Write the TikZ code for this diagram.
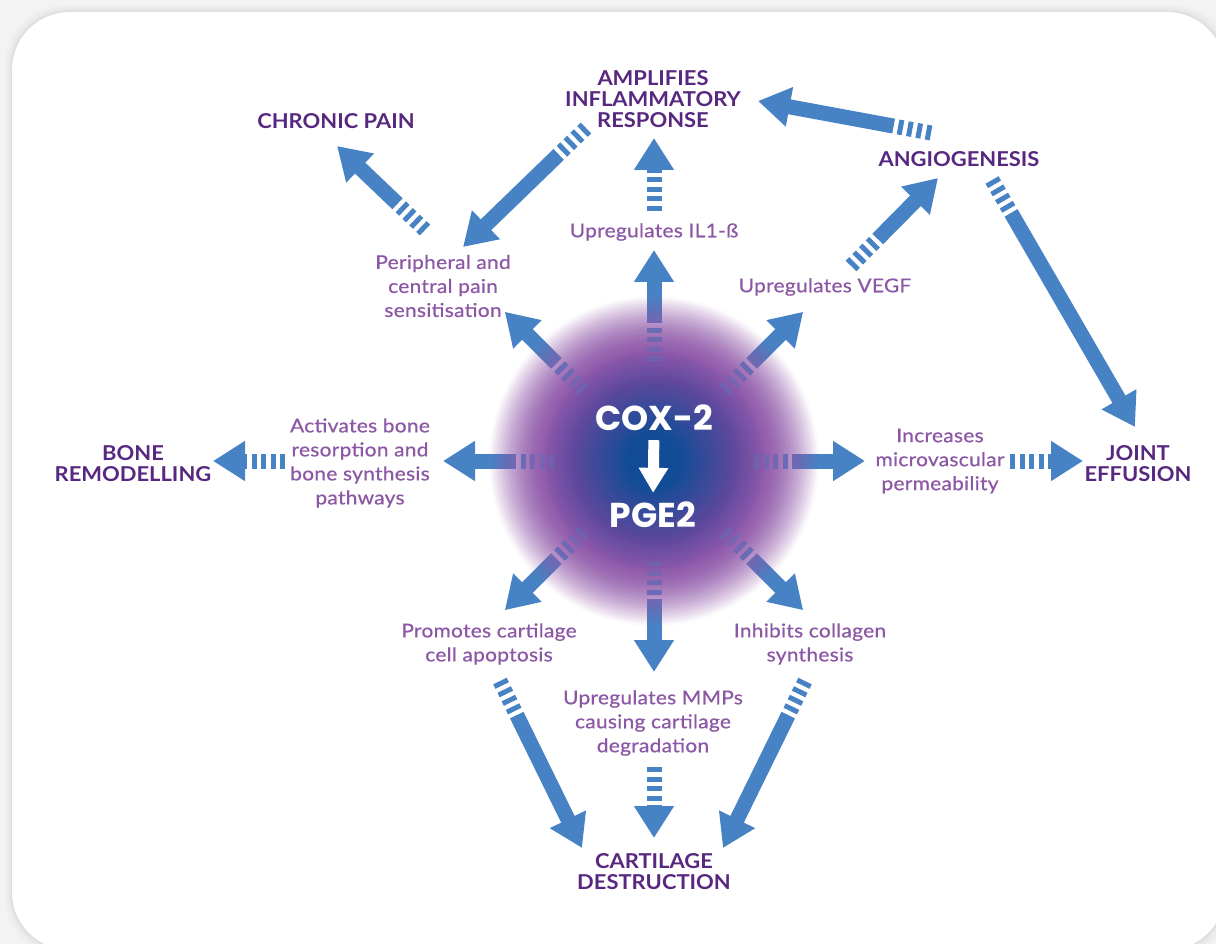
\documentclass[tikz,border=0pt]{standalone}
\usepackage{fontspec}
\setmainfont{Lato}
\newfontfamily\outcomefont{Lato}[FakeStretch=1.07]
\newfontfamily\effectfont{Lato}[FakeStretch=1.1,LetterSpace=1.5,FakeBold=0.6]
\newfontfamily\coxfont{Poppins}
\usetikzlibrary{arrows.meta,calc}
\definecolor{flowblue}{RGB}{71,131,196}
\definecolor{headpurple}{RGB}{88,40,128}
\definecolor{textpurple}{RGB}{140,88,166}
\definecolor{glowcore}{RGB}{18,76,150}
\definecolor{glowmid}{RGB}{92,72,156}
\definecolor{glowedge}{RGB}{146,90,172}
\definecolor{gray95}{RGB}{243,243,243}

\newcommand\flow[2]{%
  \draw[flowstripes] (#1) -- ($(#1)!34pt!(#2)$);
  \draw[flowshaft] ($(#1)!38pt!(#2)$) -- (#2);
}

\begin{document}
\begin{tikzpicture}
  [x=1pt,y=-1pt,
    every node/.style={inner sep=0pt,align=center},
    outcome/.style={text=headpurple,font=\outcomefont\fontsize{20.5}{21}\selectfont\bfseries},
    effect/.style={text=textpurple,font=\effectfont\fontsize{19}{24}\selectfont},
    coxtext/.style={text=white,font=\coxfont\bfseries\fontsize{34.5}{35}\selectfont},
    flowstripes/.style={draw=flowblue,line width=15pt,dash pattern=on 5pt off 4.5pt},
    flowshaft/.style={draw=flowblue,fill=flowblue,line width=15pt,-{Triangle[width=38pt,length=32pt]}},
  ]
  \useasboundingbox (0,0) rectangle (1216,944);
  \clip (0,0) rectangle (1216,944);

  % card
  \fill[gray95] (0,0) rectangle (1216,944);
  \foreach \s/\o in {7/0.012,5/0.015,3/0.02,1.5/0.03}
    \fill[black,opacity=\o,rounded corners=58pt] (12-\s,12-\s) rectangle (1225+\s,950+\s);
  \fill[white,rounded corners=58pt] (12,12) rectangle (1225,950);

  % outcomes
  \node[outcome] (chronic) at (336,121) {CHRONIC PAIN};
  \node[outcome] (amplify) at (653,99) {AMPLIFIES\\INFLAMMATORY\\RESPONSE};
  \node[outcome] (angio) at (959,159) {ANGIOGENESIS};
  \node[outcome] (bone) at (133,463.5) {BONE\\REMODELLING};
  \node[outcome] (joint) at (1138,463.5) {JOINT\\EFFUSION};
  \node[outcome] (cartilage) at (654,871.5) {CARTILAGE\\DESTRUCTION};

  % effects
  \node[effect] (il1) at (654,232) {Upregulates IL1-ß};
  \node[effect] (periph) at (443,286) {Peripheral and\\central pain\\sensitisation};
  \node[effect] (vegf) at (825,287) {Upregulates VEGF};
  \node[effect] (resorb) at (360,463) {Activates bone\\resorption and\\bone synthesis\\pathways};
  \node[effect] (perm) at (940,461) {Increases\\microvascular\\permeability};
  \node[effect] (apopt) at (489,644) {Promotes cartilage\\cell apoptosis};
  \node[effect] (mmps) at (653,723) {Upregulates MMPs\\causing cartilage\\degradation};
  \node[effect] (collagen) at (810,644) {Inhibits collagen\\synthesis};

  % arrow ends
  \coordinate (il1-out) at (654,211);       \coordinate (amplify-in) at (654,138);
  \coordinate (periph-out) at (425,230);    \coordinate (chronic-in) at (337,146);
  \coordinate (amplify-out) at (586,128);   \coordinate (periph-in) at (463,247);
  \coordinate (angio-out) at (931,133);     \coordinate (amplify-in2) at (758,101);
  \coordinate (vegf-out) at (851,266);      \coordinate (angio-in) at (938,178);
  \coordinate (angio-out2) at (992,180);    \coordinate (joint-in) at (1135,427);
  \coordinate (perm-out) at (1010,461);     \coordinate (joint-in2) at (1083,461);
  \coordinate (resorb-out) at (285,461);    \coordinate (bone-in) at (213,461);
  \coordinate (apopt-out) at (500,681);     \coordinate (cartilage-in) at (582,848);
  \coordinate (mmps-out) at (654,767);      \coordinate (cartilage-in2) at (654,838);
  \coordinate (collagen-out) at (805,681);  \coordinate (cartilage-in3) at (723,848);

  \flow{il1-out}{amplify-in}
  \flow{periph-out}{chronic-in}
  \flow{amplify-out}{periph-in}
  \flow{angio-out}{amplify-in2}
  \flow{vegf-out}{angio-in}
  \flow{angio-out2}{joint-in}
  \flow{perm-out}{joint-in2}
  \flow{resorb-out}{bone-in}
  \flow{apopt-out}{cartilage-in}
  \flow{mmps-out}{cartilage-in2}
  \flow{collagen-out}{cartilage-in3}

  % arrows out of the centre
  \coordinate (core) at (654,461);
  \foreach \a in {0,45,...,315}{
    \coordinate (core-out) at ($(core)+(\a:100)$);
    \coordinate (core-in) at ($(core)+(\a:211)$);
    \flow{core-out}{core-in}
  }

  % glow: stacked discs, outermost first
  \foreach \R in {165,162.5,...,2.5}{
    \ifdim\R pt<106.5pt
      \def\o{1}
    \else
      \pgfmathsetmacro\q{pow((\R-106.25)/60,1.6)}
      \pgfmathsetmacro\qp{pow(min(1,(\R-103.75)/60),1.6)}
      \pgfmathsetmacro\o{1-\q/\qp}
    \fi
    \ifdim\R pt<80pt
      \pgfmathsetmacro\t{min(100,max(0,(\R-28)/52*100))}
      \fill[glowmid!\t!glowcore,opacity=\o] (core) circle[radius=\R];
    \else
      \pgfmathsetmacro\t{min(100,max(0,(\R-80)/35*100))}
      \fill[glowedge!\t!glowmid,opacity=\o] (core) circle[radius=\R];
    \fi
  }
  \foreach \a in {0,45,...,315}{
    \coordinate (core-out) at ($(core)+(\a:100)$);
    \coordinate (core-in) at ($(core)+(\a:211)$);
    \draw[flowstripes,opacity=0.3] (core-out) -- ($(core-out)!34pt!(core-in)$);
  }

  \node[coxtext] (cox) at (654,418) {COX-2};
  \node[coxtext] (pge) at (653,515) {PGE2};
  \draw[white,line width=11pt,-{Triangle[width=28pt,length=25pt]},shorten <=9pt,shorten >=9pt]
    (cox.south) -- (pge.north);
\end{tikzpicture}
\end{document}
